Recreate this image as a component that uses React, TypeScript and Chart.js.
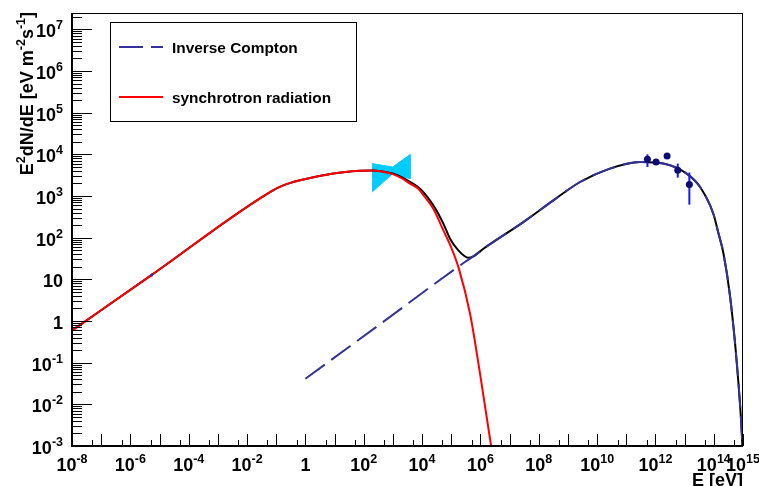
import React, { useEffect, useRef } from "react";
import { Chart, registerables } from "chart.js";

Chart.register(...registerables);

// ---------- data ----------
const syncE = [1e-8, 5.4e-6, 0.07, 0.175, 0.655, 9.1, 75, 200, 400, 1035, 2000, 3860, 7450, 12600, 24300, 53600, 104000, 178000, 441000, 971000, 2310000, 2820000];
const syncF = [0.59, 12.8, 1315, 1800, 2380, 3450, 4030, 4070, 3890, 3310, 2690, 1980, 1500, 933, 497, 150, 54.3, 19.1, 1.49, 0.0537, 0.00102, 0.0004];

const icE = [1, 372, 295000, 571000, 1.26e6, 2.95e7, 3.16e8, 2.6e9, 2.75e10, 2.95e11, 1.86e12, 1.17e13, 3.39e13, 9.55e13, 1.41e14, 2.14e14, 3.63e14, 6.17e14, 9.12e14, 1e15];
const icF = [0.041, 0.85, 26.1, 35.5, 54.3, 237, 787, 2170, 4550, 6550, 6000, 3450, 1640, 380, 135, 41.7, 3.72, 0.093, 0.00195, 0.0004];

const totalE = [1e-8, 5.4e-6, 0.07, 0.175, 0.655, 9.1, 75, 200, 400, 1035, 2000, 3860, 8510, 24300, 53600, 90800, 175000, 282000, 385000, 571000, 1.26e6, 2.95e7, 3.16e8, 2.6e9, 2.75e10, 2.95e11, 1.86e12, 1.17e13, 3.39e13, 9.55e13, 1.41e14, 2.14e14, 3.63e14, 6.17e14, 9.12e14, 1e15];
const totalF = [0.59, 12.8, 1315, 1800, 2380, 3450, 4030, 4120, 3950, 3430, 2850, 2190, 1500, 597, 217, 94.4, 49.4, 36.3, 33.0, 35.5, 54.3, 237, 787, 2170, 4550, 6550, 6000, 3450, 1640, 380, 135, 41.7, 3.72, 0.093, 0.00195, 0.0004];

const bowtieE = [193, 986, 3866, 3866, 986, 193];
const bowtieF = [5998, 4966, 9866, 2614, 3450, 1245];

const hessE = [5.3e11, 1.05e12, 2.5e12, 5.8e12, 1.45e13];
const hessF = [7600, 6550, 9140, 4140, 1877];
const hessLo = [4970, 6000, 8500, 2760, 621];
const hessHi = [10030, 7100, 9800, 6000, 3646];

const radioE = [5.4e-6];
const radioF = [12.8];

const xLabelExps = [-8, -6, -4, -2, 0, 2, 4, 6, 8, 10, 12, 14, 15];
const yLabelExps = [-3, -2, -1, 0, 1, 2, 3, 4, 5, 6, 7];
const xDecades = [-8, -7, -6, -5, -4, -3, -2, -1, 0, 1, 2, 3, 4, 5, 6, 7, 8, 9, 10, 11, 12, 13, 14, 15];
const yDecades = [-3, -2, -1, 0, 1, 2, 3, 4, 5, 6, 7];

const legendLabels = ["Inverse Compton", "synchrotron radiation"];
const xTitle = "E [eV]";

const X_MIN = 1e-8;
const X_MAX = 1e15;
const Y_MIN = 1e-3;
const Y_MAX = 2.47e7;

const FONT = '"Liberation Sans", Arial, Helvetica, sans-serif';
const IC_COLOR = "#333399";
const SYNC_COLOR = "#ff0000";
const BOW_COLOR = "#00ccff";

const LBL = 18;
const SUP = 12.5;
const RISE = 8;

const pts = (xs: number[], ys: number[]) => xs.map((x, i) => ({ x, y: ys[i] }));

function drawPower(ctx: CanvasRenderingContext2D, exp: number, x: number, baseY: number, align: string, baseSize: number, supSize: number, supRise: number) {
  let base = "10";
  let sup = "";
  if (exp === 0) base = "1";
  else if (exp !== 1) sup = String(exp);
  ctx.font = `bold ${baseSize}px ${FONT}`;
  const wb = ctx.measureText(base).width;
  ctx.font = `bold ${supSize}px ${FONT}`;
  const ws = sup ? ctx.measureText(sup).width : 0;
  const total = wb + ws;
  const start = align === "right" ? x - total : x - total / 2;
  ctx.textAlign = "left";
  ctx.textBaseline = "alphabetic";
  ctx.font = `bold ${baseSize}px ${FONT}`;
  ctx.fillText(base, start, baseY);
  if (sup) {
    ctx.font = `bold ${supSize}px ${FONT}`;
    ctx.fillText(sup, start + wb, baseY - supRise);
  }
}

const errorBarPlugin = {
  id: "errorBars",
  beforeDatasetDraw(chart: any, args: any) {
    const ds = chart.data.datasets[args.index];
    if (ds.label !== "HESS") return;
    const { ctx, scales } = chart;
    ctx.save();
    ctx.strokeStyle = "#1a1aee";
    ctx.lineWidth = 2;
    hessE.forEach((e, i) => {
      const px = scales.x.getPixelForValue(e);
      ctx.beginPath();
      ctx.moveTo(px, scales.y.getPixelForValue(hessHi[i]));
      ctx.lineTo(px, scales.y.getPixelForValue(hessLo[i]));
      ctx.stroke();
    });
    ctx.restore();
  },
};

const rootAxesPlugin = {
  id: "rootAxes",
  afterDraw(chart: any) {
    const { ctx, chartArea: a, scales } = chart;
    const xs = scales.x;
    const ys = scales.y;
    ctx.save();
    ctx.strokeStyle = "#000";
    ctx.fillStyle = "#000";
    // frame
    ctx.lineWidth = 1;
    ctx.strokeRect(a.left + 0.5, a.top + 0.5, a.right - a.left - 1, a.bottom - a.top - 1);
    ctx.lineWidth = 2;
    ctx.beginPath();
    ctx.moveTo(a.left, a.top);
    ctx.lineTo(a.left, a.bottom);
    ctx.lineTo(a.right, a.bottom);
    ctx.stroke();

    // y ticks
    ctx.lineWidth = 1;
    yDecades.forEach((d) => {
      for (let k = 1; k <= 9; k++) {
        const v = k * Math.pow(10, d);
        if (v < Y_MIN || v > Y_MAX) continue;
        const py = Math.round(ys.getPixelForValue(v)) + 0.5;
        const len = k === 1 ? 20 : 10;
        ctx.beginPath();
        ctx.moveTo(a.left, py);
        ctx.lineTo(a.left + len, py);
        ctx.stroke();
      }
    });
    // x ticks
    xDecades.forEach((d) => {
      [1, 5].forEach((k) => {
        const v = k * Math.pow(10, d);
        if (v < X_MIN || v > X_MAX) return;
        const px = Math.round(xs.getPixelForValue(v)) + 0.5;
        const len = k === 1 ? 12 : 6;
        ctx.beginPath();
        ctx.moveTo(px, a.bottom);
        ctx.lineTo(px, a.bottom - len);
        ctx.stroke();
      });
    });

    // labels
    yLabelExps.forEach((e) => {
      const py = ys.getPixelForValue(Math.pow(10, e));
      drawPower(ctx, e, a.left - 9, py + 8, "right", LBL, SUP, RISE);
    });
    xLabelExps.forEach((e) => {
      const px = xs.getPixelForValue(Math.pow(10, e));
      drawPower(ctx, e, px, 471, "center", LBL, SUP, RISE);
    });

    // x title
    ctx.font = `bold ${LBL}px ${FONT}`;
    ctx.textAlign = "right";
    ctx.textBaseline = "alphabetic";
    ctx.fillText(xTitle, a.right, 486);

    // y title (rotated)
    const parts: [string, boolean][] = [["E", false], ["2", true], ["dN/dE [eV m", false], ["-2", true], ["s", false], ["-1", true], ["]", false]];
    const bs = 18, ss = 12.5;
    let total = 0;
    parts.forEach(([t, s]) => {
      ctx.font = `bold ${s ? ss : bs}px ${FONT}`;
      total += ctx.measureText(t).width;
    });
    ctx.save();
    ctx.translate(33, a.top - 1);
    ctx.rotate(-Math.PI / 2);
    let cx = -total;
    ctx.textAlign = "left";
    parts.forEach(([t, s]) => {
      ctx.font = `bold ${s ? ss : bs}px ${FONT}`;
      ctx.fillText(t, cx, s ? -8 : 0);
      cx += ctx.measureText(t).width;
    });
    ctx.restore();

    // legend
    ctx.fillStyle = "#fff";
    ctx.fillRect(110.5, 22.5, 246, 99);
    ctx.strokeStyle = "#000";
    ctx.lineWidth = 1;
    ctx.strokeRect(110.5, 22.5, 246, 99);
    ctx.lineWidth = 2;
    ctx.strokeStyle = IC_COLOR;
    ctx.setLineDash([24, 8]);
    ctx.beginPath();
    ctx.moveTo(119, 47);
    ctx.lineTo(163, 47);
    ctx.stroke();
    ctx.setLineDash([]);
    ctx.strokeStyle = SYNC_COLOR;
    ctx.beginPath();
    ctx.moveTo(119, 97);
    ctx.lineTo(163, 97);
    ctx.stroke();
    ctx.fillStyle = "#000";
    ctx.font = `bold 15.4px ${FONT}`;
    ctx.textAlign = "left";
    ctx.fillText(legendLabels[0], 172, 52.5);
    ctx.fillText(legendLabels[1], 172, 102.5);
    ctx.restore();
  },
};

export default function App() {
  const ref = useRef<HTMLCanvasElement | null>(null);
  useEffect(() => {
    if (!ref.current) return;
    const chart = new Chart(ref.current, {
      type: "scatter",
      data: {
        datasets: [
          {
            label: "bowtie",
            data: pts(bowtieE, bowtieF),
            showLine: true,
            fill: "shape",
            backgroundColor: BOW_COLOR,
            borderColor: BOW_COLOR,
            borderWidth: 1,
            pointRadius: 0,
            tension: 0,
            order: 6,
          } as any,
          {
            label: "total",
            data: pts(totalE, totalF),
            showLine: true,
            borderColor: "#000",
            borderWidth: 2,
            pointRadius: 0,
            cubicInterpolationMode: "monotone",
            order: 5,
          } as any,
          {
            label: "synchrotron radiation",
            data: pts(syncE, syncF),
            showLine: true,
            borderColor: SYNC_COLOR,
            borderWidth: 2,
            pointRadius: 0,
            cubicInterpolationMode: "monotone",
            order: 4,
          } as any,
          {
            label: "Inverse Compton",
            data: pts(icE, icF),
            showLine: true,
            borderColor: IC_COLOR,
            borderWidth: 2,
            borderDash: [24, 8],
            pointRadius: 0,
            cubicInterpolationMode: "monotone",
            order: 3,
          } as any,
          {
            label: "radio",
            data: pts(radioE, radioF),
            showLine: false,
            pointRadius: 1.5,
            pointBackgroundColor: "#2222cc",
            pointBorderWidth: 0,
            order: 2,
          } as any,
          {
            label: "HESS",
            data: pts(hessE, hessF),
            showLine: false,
            pointRadius: 3.5,
            pointBackgroundColor: "#0b0b78",
            pointBorderColor: "#0b0b78",
            pointBorderWidth: 0,
            order: 1,
          } as any,
        ],
      },
      options: {
        animation: false,
        responsive: false,
        devicePixelRatio: 1,
        layout: { padding: { left: 0, right: 16, top: 13, bottom: 0 } },
        plugins: { legend: { display: false }, tooltip: { enabled: false } },
        scales: {
          x: {
            type: "logarithmic",
            min: X_MIN,
            max: X_MAX,
            grid: { display: false },
            border: { display: false },
            ticks: { display: false },
            afterFit: (s: any) => {
              s.height = 40;
            },
          },
          y: {
            type: "logarithmic",
            min: Y_MIN,
            max: Y_MAX,
            grid: { display: false },
            border: { display: false },
            ticks: { display: false },
            afterFit: (s: any) => {
              s.width = 72;
            },
          },
        },
      } as any,
      plugins: [errorBarPlugin, rootAxesPlugin],
    });
    return () => chart.destroy();
  }, []);
  return (
    <div style={{ position: "absolute", left: 0, top: 0, width: 759, height: 486, background: "#fff" }}>
      <canvas ref={ref} width={759} height={486} style={{ display: "block" }} />
    </div>
  );
}
